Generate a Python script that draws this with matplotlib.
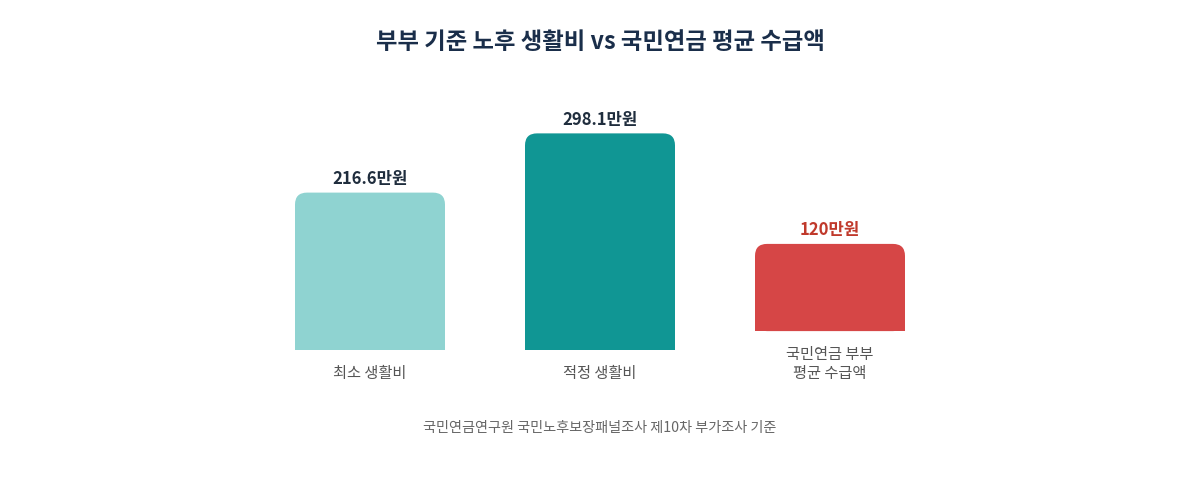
import matplotlib.pyplot as plt
from matplotlib.patches import FancyBboxPatch, Rectangle

plt.rcParams['font.family'] = ['Noto Sans CJK KR', 'DejaVu Sans']

# data
categories = ['최소 생활비', '적정 생활비', '국민연금 부부\n평균 수급액']
values = [216.6, 298.1, 120]
value_labels = ['216.6만원', '298.1만원', '120만원']
bar_colors = ['#8fd3d1', '#109694', '#d64646']
label_colors = ['#1f2d3d', '#1f2d3d', '#c0392b']

# the last bar sits a little higher because its label wraps to two lines
bar_lift = [0, 0, 26]

fig = plt.figure(figsize=(12, 5), dpi=100)
ax = fig.add_axes([0.2125, 0.30, 0.575, 0.436])
ax.set_xlim(-0.5, 2.5)
ax.set_ylim(0, 300)
ax.axis('off')

width = 150 / 230
radius_x = 12 / 230
aspect = (300 / 218) / (1 / 230)  # data-y per px over data-x per px

bars = ax.bar(range(len(values)), values, width=width, bottom=bar_lift, alpha=0)
for bar, color, lbl, lcol in zip(bars, bar_colors, value_labels, label_colors):
    x0, y0 = bar.get_x(), bar.get_y()
    w, h = bar.get_width(), bar.get_height()
    r = radius_x
    ax.add_patch(FancyBboxPatch((x0 + r, y0 + r * aspect), w - 2 * r, h - 2 * r * aspect,
                                boxstyle=f'round,pad={r}', mutation_aspect=aspect,
                                fc=color, ec='none'))
    ax.add_patch(Rectangle((x0, y0), w, h / 2, fc=color, ec='none'))
    ax.annotate(lbl, (x0 + w / 2, y0 + h), xytext=(0, 3.5), textcoords='offset points',
                ha='center', va='bottom', fontsize=12, fontweight='bold', color=lcol)

for i, (cat, lift) in enumerate(zip(categories, bar_lift)):
    ax.annotate(cat, (i, lift), xytext=(0, -11), textcoords='offset points',
                ha='center', va='top', fontsize=11, color='#555555', linespacing=1.15)

fig.text(0.5, 0.916, '부부 기준 노후 생활비 vs 국민연금 평균 수급액', ha='center', va='center',
         fontsize=16.8, fontweight='bold', color='#1a2e4a')
fig.text(0.5, 0.144, '국민연금연구원 국민노후보장패널조사 제10차 부가조사 기준', ha='center', va='center',
         fontsize=10.2, color='#666666')

fig.savefig('out.png', dpi=100, facecolor='white')
